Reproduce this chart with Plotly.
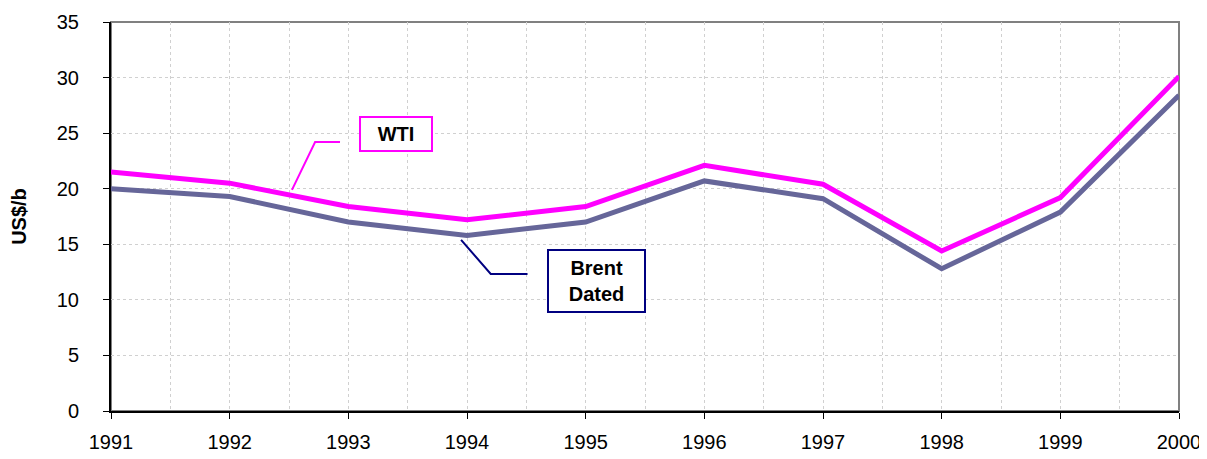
import plotly.graph_objects as go

years = [1991, 1992, 1993, 1994, 1995, 1996, 1997, 1998, 1999, 2000]
wti = [21.5, 20.5, 18.4, 17.2, 18.4, 22.1, 20.4, 14.4, 19.2, 30.1]
brent = [20.0, 19.3, 17.0, 15.8, 17.0, 20.7, 19.1, 12.8, 17.9, 28.4]
y_ticks = [0, 5, 10, 15, 20, 25, 30, 35]

WTI_COLOR = "#FF00FF"
BRENT_COLOR = "#666699"
FONT = "Liberation Sans, Arial, sans-serif"

fig = go.Figure()
fig.add_trace(go.Scatter(x=years, y=brent, mode="lines", name="Brent Dated",
                         line=dict(color=BRENT_COLOR, width=5)))
fig.add_trace(go.Scatter(x=years, y=wti, mode="lines", name="WTI",
                         line=dict(color=WTI_COLOR, width=5)))

# frame (gray top/right)
fig.add_shape(type="rect", xref="x domain", yref="y domain", x0=0, x1=1, y0=0, y1=1,
              line=dict(color="#808080", width=2), layer="below")

# connector lines
fig.add_shape(type="path", xref="x", yref="y",
              path="M 1992.525 19.9 L 1992.72 24.2 L 1992.93 24.2",
              line=dict(color=WTI_COLOR, width=2))
fig.add_shape(type="path", xref="x", yref="y",
              path="M 1993.95 15.4 L 1994.20 12.33 L 1994.51 12.33",
              line=dict(color="#000080", width=2))

fig.add_annotation(x=1993.40, y=24.92, xref="x", yref="y", text="<b>WTI</b>",
                   showarrow=False, font=dict(family=FONT, size=20, color="black"),
                   bordercolor=WTI_COLOR, borderwidth=2, width=68, height=30,
                   bgcolor="white")
fig.add_annotation(x=1995.09, y=11.70, xref="x", yref="y", text="<b>Brent<br>Dated</b>",
                   showarrow=False, font=dict(family=FONT, size=20, color="black"),
                   bordercolor="#000080", borderwidth=2, width=93, height=58,
                   bgcolor="white")

fig.update_layout(
    width=1199, height=451,
    margin=dict(l=103, r=28, t=14, b=48),
    paper_bgcolor="white", plot_bgcolor="white",
    showlegend=False,
    font=dict(family=FONT, size=20, color="black"),
    xaxis=dict(range=[1991, 2000], tickvals=years, ticktext=[str(y) for y in years],
               showgrid=True, gridcolor="#D0D0D0", griddash="dot", gridwidth=1,
               minor=dict(dtick=0.5, tick0=1991, showgrid=True, gridcolor="#D0D0D0",
                          griddash="dot", gridwidth=1),
               showline=True, linecolor="black", linewidth=2,
               ticks="outside", ticklen=6, tickcolor="black", zeroline=False,
               tickfont=dict(family=FONT, size=20), automargin=False,
               ticklabelstandoff=6),
    yaxis=dict(range=[0, 35], tickvals=y_ticks,
               showgrid=True, gridcolor="#D0D0D0", griddash="dot", gridwidth=1,
               showline=True, linecolor="black", linewidth=2,
               ticks="outside", ticklen=6, tickcolor="black", zeroline=False,
               tickfont=dict(family=FONT, size=20), automargin=False,
               ticklabelstandoff=20,
               title=dict(text="<b>US$/b</b>", font=dict(family=FONT, size=20), standoff=34)),
)

fig.write_html("out.html")
